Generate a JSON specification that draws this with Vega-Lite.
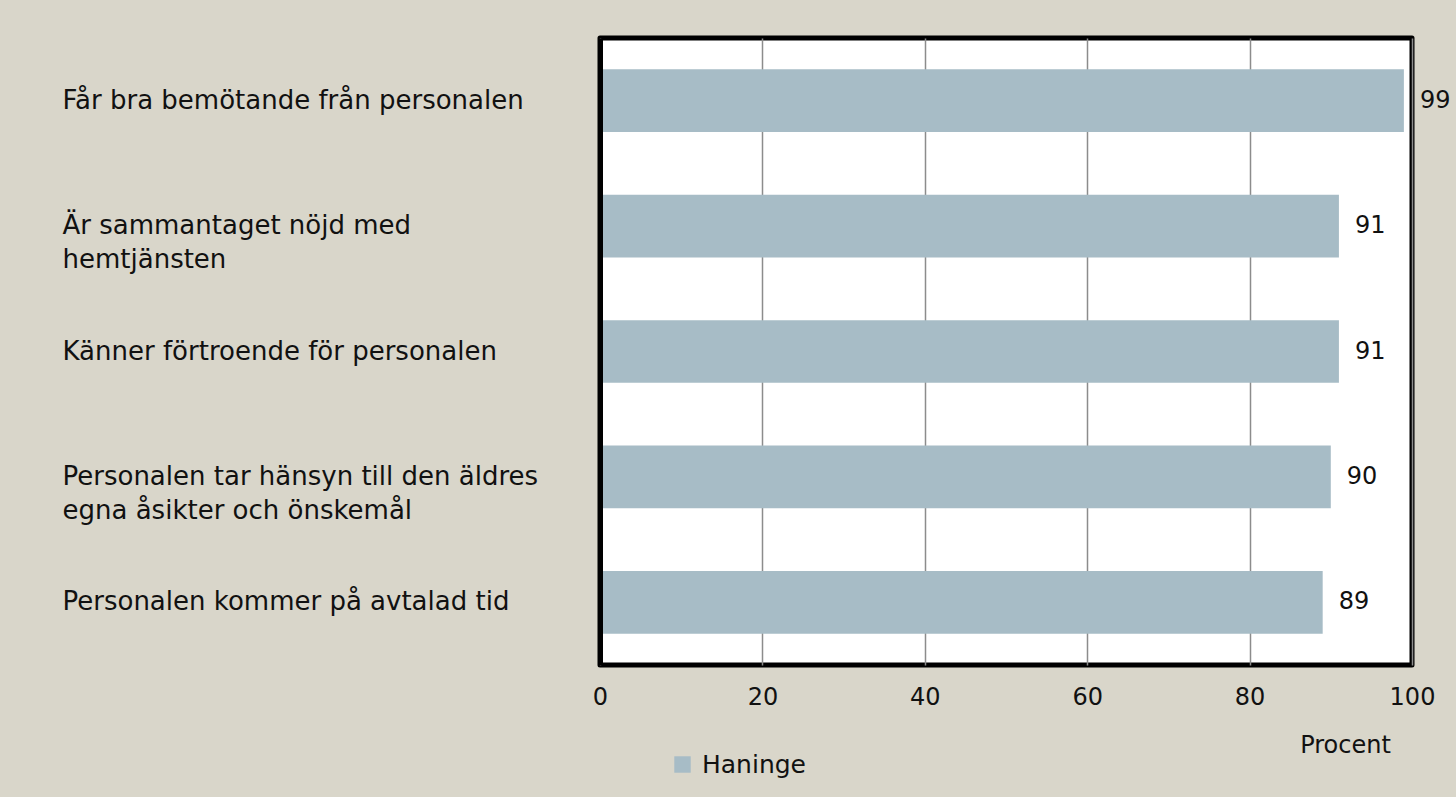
{
  "$schema": "https://vega.github.io/schema/vega-lite/v6.json",
  "width": 812,
  "height": 627,
  "autosize": {"type": "none"},
  "padding": {"left": 600, "top": 38, "right": 44, "bottom": 132},
  "background": "#d9d6ca",
  "config": {
    "font": "DejaVu Sans",
    "view": {"fill": "white", "stroke": "black", "strokeWidth": 5, "strokeJoin": "round"}
  },
  "data": {
    "values": [
      {"fraga": "Får bra bemötande från personalen", "serie": "Haninge", "procent": 99},
      {"fraga": "Är sammantaget nöjd med|hemtjänsten", "serie": "Haninge", "procent": 91},
      {"fraga": "Känner förtroende för personalen", "serie": "Haninge", "procent": 91},
      {"fraga": "Personalen tar hänsyn till den äldres|egna åsikter och önskemål", "serie": "Haninge", "procent": 90},
      {"fraga": "Personalen kommer på avtalad tid", "serie": "Haninge", "procent": 89}
    ]
  },
  "encoding": {
    "y": {
      "field": "fraga",
      "type": "nominal",
      "sort": null,
      "scale": {"paddingInner": 0.5, "paddingOuter": 0.25},
      "axis": {
        "title": null,
        "domain": true,
        "domainColor": "black",
        "domainWidth": 5,
        "ticks": false,
        "zindex": 1,
        "labelAlign": "left",
        "labelBaseline": "top",
        "labelOffset": -13,
        "labelPadding": 538,
        "labelFontSize": 26,
        "labelColor": "#111111",
        "labelLineHeight": 34,
        "labelLimit": 600,
        "labelExpr": "split(datum.label, '|')"
      }
    }
  },
  "layer": [
    {
      "mark": {"type": "bar", "color": "#a7bcc6"},
      "encoding": {
        "x": {
          "field": "procent",
          "type": "quantitative",
          "scale": {"domain": [0, 100]},
          "axis": {
            "values": [0, 20, 40, 60, 80, 100],
            "grid": true,
            "gridColor": "#8c8c8c",
            "gridWidth": 1.5,
            "domain": false,
            "ticks": false,
            "labelFlush": false,
            "labelFontSize": 24,
            "labelColor": "#111111",
            "labelPadding": 20,
            "title": "Procent",
            "titleFontSize": 24,
            "titleFontWeight": "normal",
            "titleColor": "#111111",
            "titleAnchor": null,
            "titleX": 745,
            "titleY": 80,
            "titleAlign": "center",
            "titleBaseline": "middle"
          }
        },
        "color": {
          "field": "serie",
          "type": "nominal",
          "scale": {"range": ["#a7bcc6"]},
          "legend": {
            "title": null,
            "orient": "none",
            "legendX": 70,
            "legendY": 714,
            "symbolType": "square",
            "symbolSize": 270,
            "symbolStrokeWidth": 0,
            "labelFontSize": 25,
            "labelColor": "#111111",
            "labelOffset": 7
          }
        }
      }
    },
    {
      "mark": {"type": "text", "align": "left", "baseline": "middle", "dx": 16, "fontSize": 24, "color": "#111111"},
      "encoding": {
        "x": {"field": "procent", "type": "quantitative"},
        "text": {"field": "procent", "type": "quantitative"}
      }
    }
  ]
}
